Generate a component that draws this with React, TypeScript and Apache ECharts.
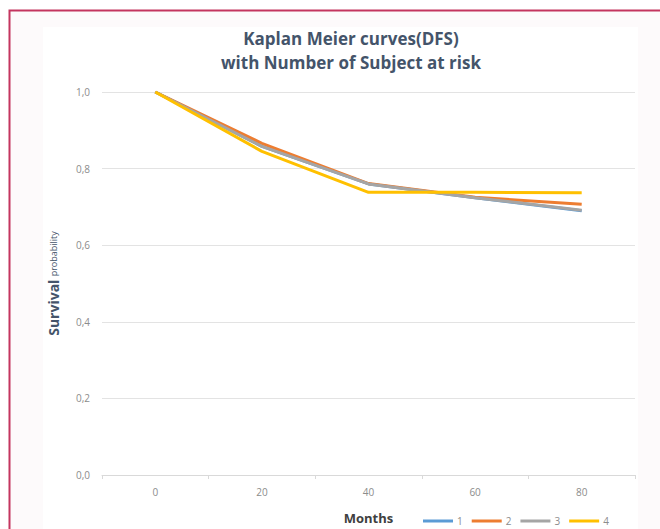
import React, { useEffect, useRef } from "react";
import * as echarts from "echarts";

const months = ["0", "20", "40", "60", "80"];
const seriesNames = ["1", "2", "3", "4"];
const s1 = [1.0, 0.858, 0.76, 0.724, 0.69];
const s2 = [1.0, 0.866, 0.761, 0.725, 0.707];
const s3 = [1.0, 0.858, 0.76, 0.724, 0.691];
const s4 = [1.0, 0.845, 0.738, 0.738, 0.737];
const titleLines = ["Kaplan Meier curves(DFS)", "with Number of Subject at risk"];
const colors = ["#5b9bd5", "#ed7d31", "#a5a5a5", "#ffc000"];

export default function App() {
  const ref = useRef<HTMLDivElement>(null);
  useEffect(() => {
    if (!ref.current) return;
    const chart = echarts.init(ref.current, null, { renderer: "svg" });
    const data = [s1, s2, s3, s4];
    chart.setOption({
      animation: false,
      backgroundColor: "#ffffff",
      graphic: [
        {
          type: "rect",
          z: -10,
          shape: { x: 9.5, y: 10.5, width: 700, height: 600 },
          style: { fill: "#fdfafb", stroke: "#c4355f", lineWidth: 2 },
          silent: true,
        },
        {
          type: "rect",
          z: -9,
          shape: { x: 43, y: 27, width: 595, height: 520 },
          style: { fill: "#ffffff" },
          silent: true,
        },
        ...titleLines.map((t, i) => ({
          type: "text",
          x: 351,
          y: 38 + i * 24,
          style: {
            text: t,
            fontFamily: "Open Sans",
            fontWeight: "bold",
            fontSize: 17,
            fill: "#44546a",
            textAlign: "center",
            textVerticalAlign: "middle",
          },
        })),
      ],
      color: colors,
      grid: { left: 102, right: 25, top: 92, bottom: 45, containLabel: false },
      legend: {
        left: 418,
        top: 511,
        icon: "rect",
        itemWidth: 30,
        itemHeight: 3,
        itemGap: 9,
        textStyle: { color: "#8c8c8c", fontSize: 10, fontFamily: "Open Sans", padding: [0, 0, 0, -1] },
        data: seriesNames,
      },
      xAxis: {
        type: "category",
        data: months,
        boundaryGap: true,
        name: "Months",
        nameLocation: "middle",
        nameGap: 36,
        nameTextStyle: { fontFamily: "Open Sans", fontWeight: "bold", fontSize: 13, color: "#404040" },
        axisLine: { lineStyle: { color: "#d9d9d9" } },
        axisTick: { show: true, length: 4, lineStyle: { color: "#d9d9d9" } },
        axisLabel: { color: "#8c8c8c", fontSize: 10, fontFamily: "Open Sans", margin: 12 },
      },
      yAxis: {
        type: "value",
        min: 0,
        max: 1,
        interval: 0.2,
        name: "{a|Survival} {b|probability}",
        nameLocation: "middle",
        nameGap: 42,
        nameRotate: 90,
        nameTextStyle: {
          rich: {
            a: { fontFamily: "Open Sans", fontWeight: "bold", fontSize: 14, color: "#44546a" },
            b: { fontFamily: "Open Sans", fontSize: 9, color: "#44546a" },
          },
        },
        axisLine: { show: false },
        axisTick: { show: false },
        splitLine: { lineStyle: { color: "#e3e3e3" } },
        axisLabel: {
          color: "#8c8c8c",
          fontSize: 10,
          fontFamily: "Open Sans",
          margin: 12,
          formatter: (v: number) => v.toFixed(1).replace(".", ","),
        },
      },
      series: seriesNames.map((n, i) => ({
        name: n,
        type: "line",
        data: data[i],
        symbol: "none",
        lineStyle: { width: 3, color: colors[i] },
        itemStyle: { color: colors[i] },
      })),
    });
    return () => chart.dispose();
  }, []);
  return (
    <div
      ref={ref}
      style={{ position: "fixed", left: 0, top: 0, width: 660, height: 529 }}
    />
  );
}
